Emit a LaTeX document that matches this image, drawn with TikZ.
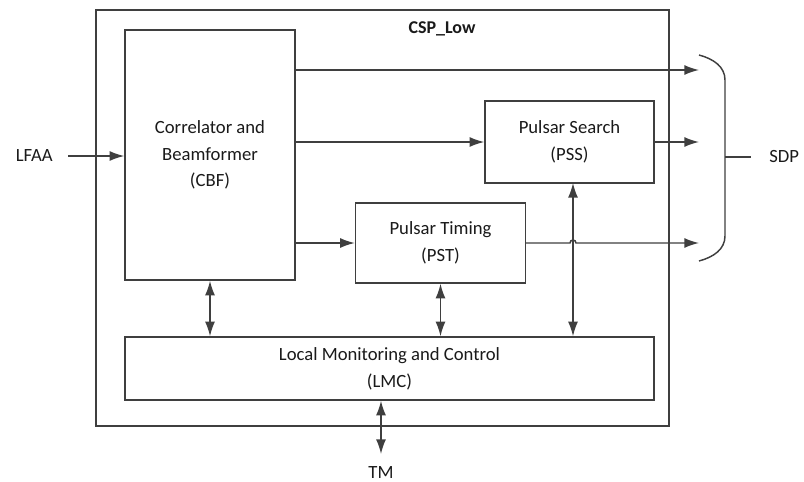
\documentclass[tikz,border=0pt]{standalone}
\usepackage{fontspec}
\setmainfont{Carlito}
\usetikzlibrary{arrows.meta}
\definecolor{linegray}{HTML}{3F3F3F}
\definecolor{textgray}{HTML}{1A1A1A}
\tikzset{
  txt/.style={text=textgray, font=\fontsize{14}{20}\selectfont},
  box/.style={txt, draw=linegray, line width=1.1pt, fill=white, align=center, inner sep=0pt},
  lbl/.style={txt, inner sep=0pt},
  conn/.style={draw=linegray, line width=1.1pt},
  tip/.style={},
  arr/.style={conn, -{Latex[length=11pt, width=7.5pt]}},
  dbl/.style={conn, {Latex[length=11pt, width=7.5pt]}-{Latex[length=11pt, width=7.5pt]}},
}
\begin{document}
\begin{tikzpicture}[x=0.75pt, y=-0.75pt]
  \useasboundingbox (0,0) rectangle (804,482);

  % system boundary and title
  \node[box, minimum width=429.75pt, minimum height=312pt] (csp) at (382.5,218) {};
  \node[lbl, font=\fontsize{13.5}{16}\selectfont\bfseries] (title) at (442,29) {CSP\_Low};

  % processing blocks
  \node[box, minimum width=127.5pt, minimum height=187.5pt] (cbf) at (210,155)
    {Correlator and\\Beamformer\\(CBF)};
  \node[box, minimum width=126.75pt, minimum height=61.5pt] (pss) at (569.5,142)
    {Pulsar Search\\(PSS)};
  \node[box, minimum width=127.5pt, minimum height=60pt] (pst) at (440.5,243)
    {Pulsar Timing\\(PST)};
  \node[box, minimum width=396.75pt, minimum height=47.25pt] (lmc) at (389.5,368.5)
    {Local Monitoring and Control\\(LMC)};

  % external interfaces
  \node[lbl, anchor=east, inner xsep=11.25pt] (lfaa) at (68,156) {LFAA};
  \node[lbl, anchor=west, inner xsep=13.5pt] (sdp) at (751,157) {SDP};
  \node[lbl, anchor=north, inner ysep=9pt] (tm) at (381,454) {TM};

  % arrow ends at the SDP brace
  \coordinate (t1) at (699,70);
  \coordinate (t2) at (699,142);
  \coordinate (t3) at (699,243);
  \coordinate (hop) at (573,243);
  \coordinate (pssbus) at (573,183);

  % data flow
  \draw[arr] (lfaa.east) -- (lfaa.east -| cbf.west);
  \draw[arr] (cbf.east |- t1) -- (t1);
  \draw[arr] (cbf.east |- pss.west) -- (pss.west);
  \draw[arr] (pss.east) -- (t2);
  \draw[arr] (cbf.east |- pst.west) -- (pst.west);
  \draw[arr] (pst.east) -- ([xshift=-2.25pt]hop) arc (180:360:3) -- (t3);

  % control links to LMC
  \draw[dbl] (cbf.south) -- (cbf.south |- lmc.north);
  \draw[dbl] (pst.south) -- (pst.south |- lmc.north);
  \draw[dbl] (pssbus) -- (pssbus |- lmc.north);
  \draw[dbl] (tm.north |- lmc.south) -- (tm.north);

  % SDP brace
  \coordinate (btop) at (699,55);
  \coordinate (bbot) at (699,261);
  \coordinate (bmid) at (725,157);
  \draw[conn] (btop) .. controls (714,59) and (725,67) .. (725,80)
    -- (725,236) .. controls (725,249) and (714,257) .. (bbot);
  \draw[conn] (bmid) -- (sdp.west);
\end{tikzpicture}
\end{document}
